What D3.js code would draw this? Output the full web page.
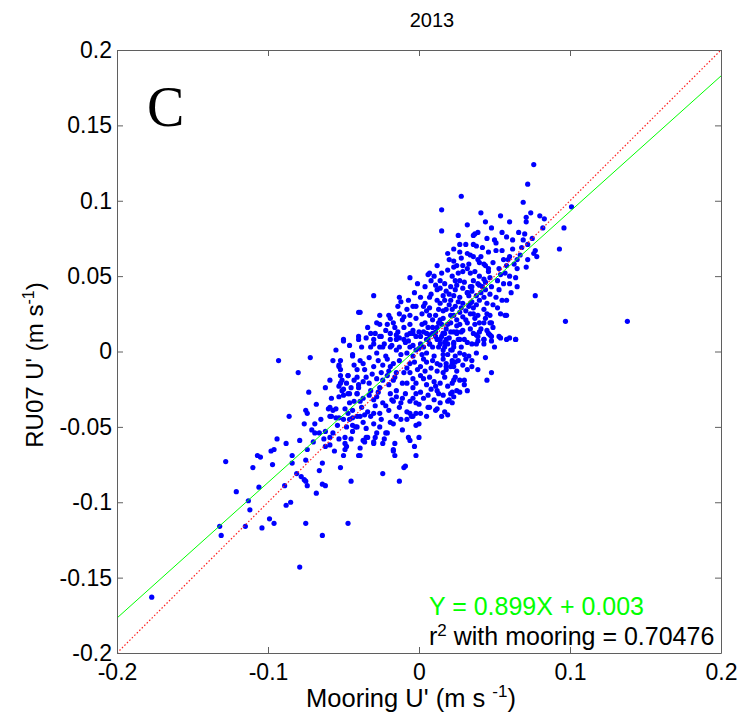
<!DOCTYPE html>
<html>
<head>
<meta charset="utf-8">
<script src="https://cdn.jsdelivr.net/npm/d3@7"></script>
<style>
body{margin:0;background:#fff}
text{font-family:"Liberation Sans",Arial,sans-serif}
</style>
</head>
<body>
<div class="container"></div>
<script>
var title = '2013'
var panelLabel = 'C'
var xTicks = [-0.2, -0.1, 0, 0.1, 0.2]
var yTicks = [-0.2, -0.15, -0.1, -0.05, 0, 0.05, 0.1, 0.15, 0.2]
var fitSlope = 0.899
var fitIntercept = 0.003
var r2 = 0.70476

// [mooring U', RU07 U'] in m/s
var uPairs = [
  [-0.177,-0.163],
  [-0.128,-0.073],[-0.110,-0.077],[-0.121,-0.093],[-0.113,-0.099],[-0.112,-0.105],[-0.132,-0.116],[-0.131,-0.122],[-0.115,-0.116],[-0.104,-0.117],[-0.099,-0.111],[-0.096,-0.114],[-0.088,-0.102],[-0.085,-0.100],[-0.079,-0.143],[-0.075,-0.114],[-0.064,-0.122],[-0.047,-0.114],
  [-0.107,-0.069],[-0.105,-0.070],[-0.098,-0.066],[-0.096,-0.065],[-0.094,-0.058],[-0.088,-0.061],[-0.097,-0.075],[-0.106,-0.090],[-0.089,-0.089],[-0.084,-0.069],[-0.084,-0.074],[-0.079,-0.059],[-0.074,-0.065],
  [-0.081,-0.081],[-0.078,-0.083],[-0.076,-0.085],[-0.075,-0.086],[-0.074,-0.089],[-0.068,-0.094],[-0.064,-0.088],[-0.062,-0.089],[-0.066,-0.079],[-0.064,-0.074],[-0.075,-0.072],[-0.070,-0.060],
  [-0.076,-0.048],[-0.074,-0.041],[-0.075,-0.039],[-0.086,-0.043],[-0.069,-0.048],[-0.069,-0.054],[-0.066,-0.054],[-0.062,-0.053],[-0.059,-0.057],[-0.059,-0.062],[-0.062,-0.063],
  [-0.052,-0.077],[-0.045,-0.086],[-0.040,-0.069],[-0.039,-0.064],[-0.037,-0.059],[-0.049,-0.065],[-0.049,-0.061],[-0.045,-0.058],
  [-0.035,-0.057],[-0.030,-0.060],[-0.028,-0.054],[-0.023,-0.058],[-0.021,-0.054],[-0.024,-0.081],[-0.017,-0.066],[-0.016,-0.069],[-0.013,-0.086],[-0.010,-0.077],[-0.009,-0.076],[-0.006,-0.059],[-0.002,-0.069],[-0.002,-0.049],[0.000,-0.048],[-0.006,-0.041],[-0.004,-0.043],
  [0.006,-0.037],[0.012,-0.038],[0.019,-0.042],[0.014,-0.034],[-0.002,-0.034],[-0.012,-0.034],[-0.017,-0.033],[-0.022,-0.036],[-0.026,-0.041],[-0.030,-0.041],[-0.036,-0.042],[-0.041,-0.043],[-0.044,-0.039],[-0.047,-0.041],
  [-0.057,-0.039],[-0.059,-0.043],[-0.060,-0.038],[-0.055,-0.044],[-0.050,-0.045],[-0.044,-0.053],[-0.042,-0.050],[-0.048,-0.050],
  [-0.093,-0.006],[-0.072,-0.004],[-0.080,-0.014],[-0.073,-0.027],[-0.057,-0.006],[-0.052,-0.006],[-0.053,-0.009],[-0.053,-0.010],[-0.050,0.007],[-0.040,0.026],[-0.040,0.010],[-0.040,0.008],[-0.044,-0.002],[-0.044,-0.003],[-0.043,-0.009],[-0.059,-0.019],[-0.052,-0.016],[-0.051,-0.019],[-0.047,-0.016],[-0.048,-0.021],[-0.041,-0.017],[-0.053,-0.023],[-0.051,-0.026],[-0.053,-0.030],[-0.047,-0.028],[-0.050,-0.029],[-0.041,-0.028],[-0.040,-0.024],
  [0.015,0.094],[0.041,0.092],[0.015,0.080],[0.032,0.084],[0.037,0.078],[0.036,0.077],[0.027,0.071],[0.031,0.071],[0.036,0.071],[0.019,0.065],[0.027,0.066],[0.032,0.065],[0.028,0.062],[0.039,0.061],[0.043,0.058],[0.023,0.060],[0.025,0.057],[0.023,0.056],[0.012,0.057],[0.032,0.055],[0.034,0.052],[0.029,0.053],[0.007,0.052],[0.006,0.051],[0.015,0.052],[0.014,0.047],[0.008,0.047],[-0.006,0.049],[-0.001,0.045],[-0.030,0.037],[-0.013,0.036],[-0.007,0.034],[-0.014,0.030],[0.007,0.029],[0.022,0.050],[0.021,0.043],[0.025,0.044],[0.027,0.047],[0.036,0.047],[0.039,0.045],[0.043,0.048],[0.046,0.053],
  [0.012,0.041],[0.016,0.037],[0.021,0.034],[0.027,0.036],[0.032,0.039],[0.038,0.037],[0.044,0.041],[0.014,0.032],[0.018,0.028],[0.024,0.030],[0.029,0.032],[0.035,0.033],[0.040,0.034],[0.045,0.032],[0.011,0.024],[0.016,0.022],[0.023,0.024],[0.027,0.026],[0.034,0.025],[0.039,0.024],[0.045,0.025],[0.009,0.016],[0.015,0.018],[0.021,0.019],[0.025,0.021],[0.032,0.019],[0.037,0.018],[0.043,0.019],[0.005,0.012],[0.011,0.010],[0.017,0.012],[0.023,0.013],[0.029,0.014],[0.036,0.012],[0.040,0.013],[0.046,0.012],[0.007,0.005],[0.013,0.003],[0.019,0.005],[0.026,0.008],[0.032,0.006],[0.038,0.005],[0.043,0.008],
  [-0.039,0.026],[-0.026,0.024],[-0.020,0.024],[-0.019,0.022],[-0.026,0.018],[-0.021,0.018],[-0.017,0.019],[-0.011,0.021],[-0.006,0.018],[-0.002,0.022],[0.002,0.025],[-0.002,0.030],[0.004,0.032],[0.001,0.036],[0.007,0.036],[-0.035,0.009],[-0.030,0.008],[-0.025,0.010],[-0.019,0.012],[-0.014,0.013],[-0.008,0.011],[-0.004,0.014],[0.001,0.010],[0.005,0.008],[-0.026,0.003],[-0.019,0.003],[-0.013,0.003],[-0.006,0.003],[0.000,0.002],[-0.008,0.028],[-0.013,0.025],
  [0.014,0.042],[0.018,0.040],[0.024,0.041],[0.029,0.042],[0.034,0.043],[0.042,0.043],[0.017,0.034],[0.026,0.033],[0.033,0.030],[0.038,0.031],[0.043,0.028],[0.013,0.028],[0.021,0.024],[0.029,0.023],[0.037,0.022],[0.044,0.022],[0.014,0.021],[0.018,0.015],[0.027,0.018],[0.034,0.015],[0.039,0.010],[0.014,0.008],[0.023,0.005],[0.028,0.003],[0.003,0.003],[0.011,0.013],[0.004,0.019],[0.007,0.024],[0.003,0.030],[-0.004,0.030],[-0.006,0.024],[-0.010,0.016],[-0.015,0.008],[-0.023,0.005],[-0.029,0.012],[-0.032,0.003],[0.000,0.013],
  [0.076,0.124],[0.072,0.111],[0.028,0.103],[0.069,0.099],[0.074,0.092],[0.071,0.089],[0.071,0.086],[0.080,0.090],[0.083,0.088],[0.101,0.096],[0.096,0.082],[0.082,0.082],[0.093,0.068],[0.077,0.037],[0.097,0.020],[0.138,0.020],
  [0.054,0.090],[0.060,0.086],[0.066,0.079],[0.070,0.078],[0.048,0.082],[0.055,0.079],[0.058,0.076],[0.062,0.074],[0.069,0.074],[0.075,0.075],[0.072,0.071],[0.077,0.067],[0.078,0.063],[0.076,0.065],
  [0.071,0.056],[0.072,0.061],[0.065,0.061],[0.060,0.063],[0.056,0.061],[0.051,0.067],[0.051,0.072],[0.045,0.075],[0.038,0.070],[0.036,0.063],[0.040,0.059],[0.046,0.055],[0.053,0.055],[0.058,0.057],[0.054,0.051],[0.060,0.050],[0.047,0.049],[0.040,0.050],[0.065,0.055],
  [0.061,0.039],[0.058,0.034],[0.051,0.036],[0.049,0.031],[0.054,0.025],[0.057,0.024],[0.047,0.024],[0.048,0.019],[0.045,0.014],[0.043,0.008],[0.038,0.011],[0.040,0.019],[0.036,0.025],[0.034,0.032],[0.043,0.036],[0.032,0.039],[0.048,0.043],[0.053,0.041],[0.040,0.044],[0.035,0.043],[0.060,0.045],[0.056,0.045],[0.065,0.043],
  [0.058,0.024],[0.047,0.019],[0.047,0.011],[0.058,0.008],[0.064,0.008],
  [0.060,0.009],[0.064,0.008],[0.048,0.010],[0.048,0.007],[0.053,0.010],[0.054,0.009],[0.043,0.005],[0.039,0.007],[0.035,0.005],[0.030,0.008],[0.048,-0.014],[0.045,-0.019],
  [0.035,-0.006],[0.035,-0.010],[0.032,-0.012],[0.030,-0.002],[0.031,-0.005],[0.029,-0.009],[0.026,-0.006],[0.022,-0.008],[0.023,-0.010],[0.018,-0.008],[0.018,-0.012],[0.016,-0.014],[0.024,-0.017],[0.027,-0.019],[0.030,-0.019],[0.030,-0.022],[0.022,-0.021],[0.019,-0.023],[0.032,-0.026],[0.022,-0.027],[0.020,-0.032],[0.022,-0.034],[0.015,-0.043],
  [0.016,0.012],[0.021,0.013],[0.025,0.013],[0.018,0.008],[0.023,0.006],[0.027,0.008],[0.017,0.003],[0.022,0.001],[0.016,-0.002],[0.019,-0.002],[0.022,-0.006],
  [-0.050,0.008],[-0.038,0.003],
  [-0.047,-0.016],[-0.052,-0.021],[-0.050,-0.025],[-0.046,-0.028],[-0.041,-0.028],[-0.040,-0.022],[-0.037,-0.020],[-0.037,-0.031],[-0.039,-0.033],[-0.033,-0.029],[-0.030,-0.032],[-0.046,-0.034],[-0.049,-0.038],[-0.055,-0.038],[-0.059,-0.037],[-0.058,-0.043],[-0.053,-0.044],
  [-0.046,-0.045],[-0.044,-0.049],[-0.041,-0.050],[-0.037,-0.047],[-0.035,-0.051],[-0.032,-0.043],[-0.030,-0.048],[-0.026,-0.050],[-0.022,-0.054],[-0.029,-0.057],[-0.034,-0.057],[-0.036,-0.060],[-0.049,-0.057],[-0.048,-0.063],[-0.053,-0.058],[-0.057,-0.054],[-0.050,-0.069],[-0.039,-0.069],[-0.030,-0.061],[-0.024,-0.061],[-0.017,-0.065],[-0.016,-0.061],[-0.011,-0.052],[-0.008,-0.045],[-0.005,-0.043],[-0.002,-0.041],[-0.015,-0.043],[-0.017,-0.048],[-0.007,-0.057],[0.000,-0.057],[-0.003,-0.063],[0.007,-0.037],[0.011,-0.039],[0.019,-0.033],[0.021,-0.028],[0.025,-0.026],[0.017,-0.040],
  [-0.032,0.012],[-0.026,0.010],[-0.030,0.005],[-0.024,0.003],[-0.019,0.008],[-0.015,0.011],[-0.010,0.008],[-0.006,0.012],[-0.002,0.010],[0.003,0.013],[0.007,0.011],[0.012,0.008],[0.016,0.012],[0.020,0.009],[0.025,0.012],
  [-0.028,-0.001],[-0.022,-0.003],[-0.015,0.001],[-0.008,-0.001],[-0.002,0.001],[0.005,-0.001],[0.009,0.003],[0.016,0.001],[0.023,0.003],[0.027,-0.001],
  [-0.037,-0.008],[-0.030,-0.010],[-0.024,-0.009],[-0.017,-0.008],[-0.013,-0.006],[-0.006,-0.008],[0.001,-0.010],[0.005,-0.007],[0.012,-0.008],[0.018,-0.010],[0.024,-0.007],
  [-0.035,-0.017],[-0.028,-0.018],[-0.021,-0.016],[-0.016,-0.017],[-0.010,-0.014],[-0.004,-0.018],[0.001,-0.016],[0.007,-0.017],[0.012,-0.013],[0.017,-0.017],[0.023,-0.019],
  [-0.026,-0.024],[-0.020,-0.022],[-0.015,-0.026],[-0.009,-0.028],[-0.004,-0.024],[0.001,-0.027],[0.006,-0.029],[0.012,-0.026],[0.016,-0.029],[0.023,-0.030],
  [-0.024,-0.034],[-0.018,-0.032],[-0.013,-0.037],[-0.006,-0.033],[0.000,-0.035],[0.003,-0.031],[-0.020,-0.039],[-0.008,-0.040],[0.001,-0.041],[0.005,-0.043],
  [-0.004,0.012],[0.001,0.005],[0.007,0.005],[0.014,0.005],[0.021,0.001],[-0.004,-0.003],[0.003,-0.005],[0.010,-0.003],[0.016,-0.005],[0.021,-0.010],[0.025,-0.013],[-0.008,-0.011],[-0.015,-0.014],[-0.019,-0.010],[-0.024,-0.019],[-0.008,-0.021],[-0.002,-0.021],[0.005,-0.022],[0.010,-0.020],[0.014,-0.021],[-0.015,-0.030],[-0.004,-0.031],[0.010,-0.032],[-0.032,-0.026],[-0.028,-0.030],[-0.043,-0.019],[-0.041,-0.012],[-0.052,-0.012],[-0.055,0.001],[-0.046,0.004],
  [-0.021,-0.005],[-0.018,0.004],[-0.012,-0.002],[-0.009,0.006],[-0.004,0.004],[0.002,-0.002],[0.006,0.008],[0.009,-0.006],[0.012,0.016],[0.015,0.010],[0.019,0.018],[0.022,0.028],[0.025,0.017],[0.028,0.029],[0.031,0.027],[0.033,0.037],[0.036,0.029],[0.041,0.039],[0.044,0.046],[0.047,0.038],
  [-0.011,-0.021],[-0.006,-0.014],[-0.001,-0.012],[0.003,-0.018],[0.008,-0.011],[0.011,-0.023],[0.014,-0.009],[-0.017,-0.019],[-0.020,-0.013],[-0.025,-0.014],[-0.027,-0.006],[-0.031,-0.015],[-0.033,-0.004],[-0.036,-0.012],[-0.039,-0.006],
  [0.002,0.018],[0.005,0.027],[0.009,0.021],[0.012,0.034],[0.017,0.045],[0.020,0.031],[0.023,0.037],[0.026,0.052],[0.030,0.046],[0.033,0.058],[0.037,0.053],[0.041,0.063],[0.044,0.057],[0.049,0.059],[0.052,0.047],[0.055,0.067],[0.057,0.052],[0.062,0.068],[0.064,0.049],[0.067,0.064],
  [-0.010,0.023],[-0.016,0.016],[-0.022,0.014],[-0.028,0.019],[-0.034,0.016],[-0.012,0.033],[-0.003,0.039],[0.004,0.043],[0.010,0.050],[0.019,0.054],
  [0.033,-0.003],[0.038,-0.001],[0.041,0.015],[0.049,0.016],[0.052,0.029],[0.055,0.034],[0.050,0.003],[0.044,-0.004],[0.039,-0.012],[0.027,-0.027],[0.013,-0.028],[0.008,-0.025],[-0.002,-0.028],[-0.011,-0.031],[-0.019,-0.028],[-0.029,-0.036],[-0.034,-0.040],[-0.039,-0.043],[-0.043,-0.033],[-0.045,-0.024],
  [0.006,0.016],[0.008,0.038],[0.020,0.061],[0.011,0.044],[0.017,0.006],[0.024,-0.003],[0.028,0.013],[0.031,0.021],[0.035,0.040],[0.046,0.066],[0.050,0.074],[0.042,0.069],[0.059,0.061],[0.063,0.058],[0.068,0.069],
  [-0.007,0.007],[-0.013,0.009],[0.004,-0.013],[-0.003,-0.007],[0.009,0.012],[0.013,0.019],[0.016,0.027],[0.020,0.038],[0.024,0.047],[0.029,0.057],[0.034,0.064],[0.039,0.079],[0.026,0.077],[0.023,0.068],[0.044,0.086],
  [-0.025,-0.045],[-0.019,-0.047],[-0.012,-0.045],[-0.027,-0.027],[-0.033,-0.021],[-0.038,-0.037],[-0.044,-0.044],[-0.054,-0.049],[-0.058,-0.031],[-0.062,-0.024],[-0.065,-0.045],[-0.068,-0.035],[-0.063,-0.058],[-0.056,-0.066],[-0.071,-0.052]
]

var width = 743, height = 720
var margin = {left: 117, top: 50, right: 22, bottom: 67}
var axisColor = '#5f5f5f'

var svg = d3.select('.container').append('svg')
  .attr('width', width).attr('height', height)

var x = d3.scaleLinear().domain([-0.2, 0.2]).range([margin.left, width - margin.right])
var y = d3.scaleLinear().domain([-0.2, 0.2]).range([height - margin.bottom, margin.top])

svg.append('clipPath').attr('id', 'plot-clip')
  .append('rect')
  .attr('x', x.range()[0]).attr('y', y.range()[1])
  .attr('width', x.range()[1] - x.range()[0])
  .attr('height', y.range()[0] - y.range()[1])

var plot = svg.append('g').attr('clip-path', 'url(#plot-clip)')

plot.selectAll('circle.pt').data(uPairs).join('circle')
  .attr('class', 'pt')
  .attr('cx', d => x(d[0]))
  .attr('cy', d => y(d[1]))
  .attr('r', 2.6)
  .attr('fill', '#0000ff')

// 1:1 line and the regression fit
var line = d3.line().x(d => x(d[0])).y(d => y(d[1]))
var xs = x.domain()
plot.append('path')
  .attr('d', line(xs.map(v => [v, v])))
  .attr('fill', 'none').attr('stroke', '#ff2020').attr('stroke-width', 1.2)
  .attr('stroke-dasharray', '1.5,2')
plot.append('path')
  .attr('d', line(xs.map(v => [v, fitSlope * v + fitIntercept])))
  .attr('fill', 'none').attr('stroke', '#00ff00').attr('stroke-width', 1)

var fmt = d => String(+d.toFixed(2))

function styleAxis(g){
  g.select('.domain').attr('stroke', axisColor)
  g.selectAll('.tick line').attr('stroke', axisColor)
  g.selectAll('.tick text').attr('fill', '#000')
    .style('font-size', '23px').style('font-family', '"Liberation Sans", Arial, sans-serif')
}

svg.append('g')
  .attr('transform', `translate(0,${y.range()[0]})`)
  .call(d3.axisBottom(x).tickValues(xTicks).tickFormat(fmt).tickSizeInner(-6).tickSizeOuter(0).tickPadding(11))
  .call(styleAxis)
svg.append('g')
  .attr('transform', `translate(0,${y.range()[1]})`)
  .call(d3.axisTop(x).tickValues(xTicks).tickFormat('').tickSizeInner(-6).tickSizeOuter(0))
  .call(styleAxis)
svg.append('g')
  .attr('transform', `translate(${x.range()[0]},0)`)
  .call(d3.axisLeft(y).tickValues(yTicks).tickFormat(fmt).tickSizeInner(-6).tickSizeOuter(0).tickPadding(5))
  .call(styleAxis)
svg.append('g')
  .attr('transform', `translate(${x.range()[1]},0)`)
  .call(d3.axisRight(y).tickValues(yTicks).tickFormat('').tickSizeInner(-6).tickSizeOuter(0))
  .call(styleAxis)

svg.append('text').text(title)
  .attr('x', 432).attr('y', 27)
  .attr('text-anchor', 'middle').style('font-size', '20px')

svg.append('text').text(panelLabel)
  .attr('x', 147).attr('y', 126)
  .style('font-family', '"Liberation Serif", "Times New Roman", serif')
  .style('font-size', '56px')

// axis labels with superscript exponent
var xl = svg.append('text')
  .attr('x', 411).attr('y', 707)
  .attr('text-anchor', 'middle').style('font-size', '25.5px')
xl.append('tspan').text("Mooring U' (m s ")
xl.append('tspan').text('-1').attr('dy', -10).style('font-size', '17px')
xl.append('tspan').text(')').attr('dy', 10)

var yl = svg.append('text')
  .attr('transform', 'translate(43,365) rotate(-90)')
  .attr('text-anchor', 'middle').style('font-size', '24px')
yl.append('tspan').text("RU07 U' (m s")
yl.append('tspan').text('-1').attr('dy', -9).style('font-size', '16px')
yl.append('tspan').text(')').attr('dy', 9)

svg.append('text')
  .text(`Y = ${fitSlope}X + ${fitIntercept.toFixed(3)}`)
  .attr('x', 429).attr('y', 615)
  .attr('fill', '#00ff00').style('font-size', '25px')

var rt = svg.append('text')
  .attr('x', 429).attr('y', 645)
  .style('font-size', '25px')
rt.append('tspan').text('r')
rt.append('tspan').text('2').attr('dy', -9).style('font-size', '17px')
rt.append('tspan').text(` with mooring = ${r2}`).attr('dy', 9)
</script>
</body>
</html>
